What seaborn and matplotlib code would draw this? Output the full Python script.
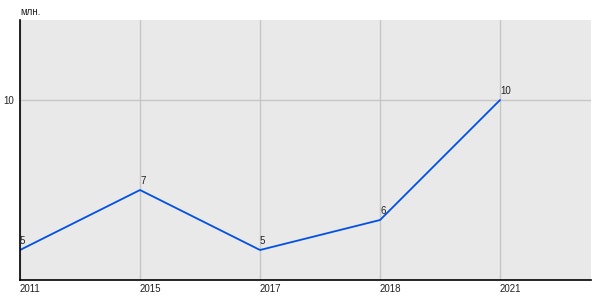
import matplotlib
matplotlib.use("Agg")
import matplotlib.pyplot as plt
import seaborn as sns
import pandas as pd

years = ["2011", "2015", "2017", "2018", "2021"]
values = [5, 7, 5, 6, 10]
value_labels = ["5", "7", "5", "6", "10"]
y_ticks = [10]
y_unit = "млн."

sns.set_style("white")
plt.rcParams["font.family"] = ["Liberation Sans", "DejaVu Sans"]

df = pd.DataFrame({"year": years, "value": values})

fig = plt.figure(figsize=(6, 3), dpi=100)
ax = fig.add_axes([20/600, 20/300, 571/600, 260/300])
ax.set_facecolor("#e9e9e9")

sns.lineplot(data=df, x="year", y="value", ax=ax, color="#0050e8", linewidth=1.3, sort=False)

ax.set_xlim(0, 4.758)
ax.set_ylim(4, 12.667)
ax.set_xticks(range(len(years)))
ax.set_xticklabels(years, ha="left", fontsize=7, color="#222222")
ax.set_yticks(y_ticks)
ax.set_yticklabels([str(t) for t in y_ticks], fontsize=7, color="#222222")
ax.tick_params(axis="x", length=0, pad=3)
ax.tick_params(axis="y", length=2.2, width=1, color="black", pad=2)
ax.grid(True, color="#c6c6c6", linewidth=1)
ax.set_axisbelow(True)
for s in ["top", "right"]:
    ax.spines[s].set_visible(False)
for s in ["left", "bottom"]:
    ax.spines[s].set_color("black")
    ax.spines[s].set_linewidth(1.2)
ax.set_xlabel("")
ax.set_ylabel("")

for i, (v, lab) in enumerate(zip(values, value_labels)):
    ax.annotate(lab, (i, v), xytext=(0, 3), textcoords="offset points",
                ha="left", va="bottom", fontsize=7, color="#222222")

ax.annotate(y_unit, (0, 1), xycoords="axes fraction", xytext=(0, 2),
            textcoords="offset points", ha="left", va="bottom",
            fontsize=7, color="#222222")

fig.savefig("out.png", dpi=100)
